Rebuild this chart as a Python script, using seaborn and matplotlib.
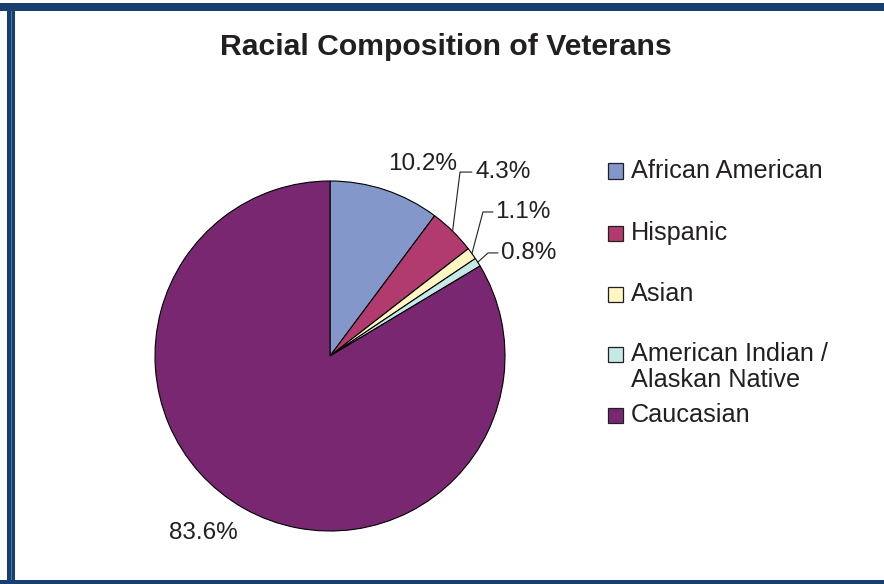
import numpy as np
import matplotlib
matplotlib.use("Agg")
import matplotlib.pyplot as plt
from matplotlib.patches import Rectangle
import seaborn as sns

# ---- data ----
categories = ["African American", "Hispanic", "Asian",
              "American Indian /\nAlaskan Native", "Caucasian"]
values = [10.2, 4.3, 1.1, 0.8, 83.6]
labels = ["10.2%", "4.3%", "1.1%", "0.8%", "83.6%"]
colors = ["#8497CA", "#B13B6F", "#FFF6C4", "#C6E9E7", "#7A2771"]

sns.set_style("white")
plt.rcParams["font.family"] = ["Liberation Sans", "DejaVu Sans"]

W, H = 884, 584
fig = plt.figure(figsize=(W / 100, H / 100), dpi=100)
fig.patch.set_facecolor("white")

# border
navy = "#173F70"
def frect(x, y_top, w, h, color, z=0):
    fig.patches.append(Rectangle((x / W, 1 - (y_top + h) / H), w / W, h / H,
                                 transform=fig.transFigure, facecolor=color,
                                 edgecolor="none", zorder=z))

frect(0, 3, W, 8, navy)           # top bar
frect(0, 580, W, 4, navy)         # bottom bar
frect(7, 3, 8, H - 3, navy)       # left bar
frect(11, 11, 1.2, H - 15, "#4A78AE", z=1)

# pie axes
cx, cy, R = 330, 356, 175
ax = fig.add_axes([(cx - R) / W, (H - cy - R) / H, 2 * R / W, 2 * R / H])
wedges, _ = ax.pie(values, colors=colors, startangle=90, counterclock=False,
                   radius=1.0,
                   wedgeprops=dict(edgecolor="black", linewidth=0.8))
ax.set_xlim(-1, 1)
ax.set_ylim(-1, 1)
ax.set_aspect("equal")
ax.axis("off")

# labels
fs = 17.5
tc = "#231F20"
frac = np.array(values) / sum(values)
starts = np.concatenate([[0], np.cumsum(frac)[:-1]])
mids = (starts + frac / 2) * 2 * np.pi  # clockwise from top

ax.text(0.531, 1.097, labels[0], ha="center", va="center", fontsize=fs, color=tc)
ax.text(-0.726, -1.011, labels[4], ha="center", va="center", fontsize=fs, color=tc)

# leader-line labels: (elbow x, text y, line end x, text left x)
leaders = {1: (0.743, 1.051, 0.811, 0.829),
           2: (0.874, 0.823, 0.931, 0.943),
           3: (0.903, 0.589, 0.960, 0.977)}
for i, (ex, ty, lx, tx) in leaders.items():
    sx, sy = np.sin(mids[i]), np.cos(mids[i])
    ax.plot([sx, ex, lx], [sy, ty, ty], color=tc, lw=0.8, clip_on=False)
    ax.text(tx, ty, labels[i], ha="left", va="center", fontsize=fs, color=tc)

# title
fig.text(446 / W, 1 - 47 / H, "Racial Composition of Veterans", ha="center",
         va="center", fontsize=21.7, fontweight="bold", color=tc)

# legend
lfs = 18.2
ys = [171, 233, 294, 354, 415]
for c, name, y in zip(colors, categories, ys):
    fig.patches.append(Rectangle((608 / W, 1 - (y + 7.5) / H), 15 / W, 15 / H,
                                 transform=fig.transFigure, facecolor=c,
                                 edgecolor=tc, linewidth=0.9))
    lines = name.split("\n")
    for k, line in enumerate(lines):
        fig.text(631 / W, 1 - (y + 26 * k) / H, line, ha="left", va="center",
                 fontsize=lfs, color=tc)

fig.savefig("out.png", dpi=100, facecolor="white")
